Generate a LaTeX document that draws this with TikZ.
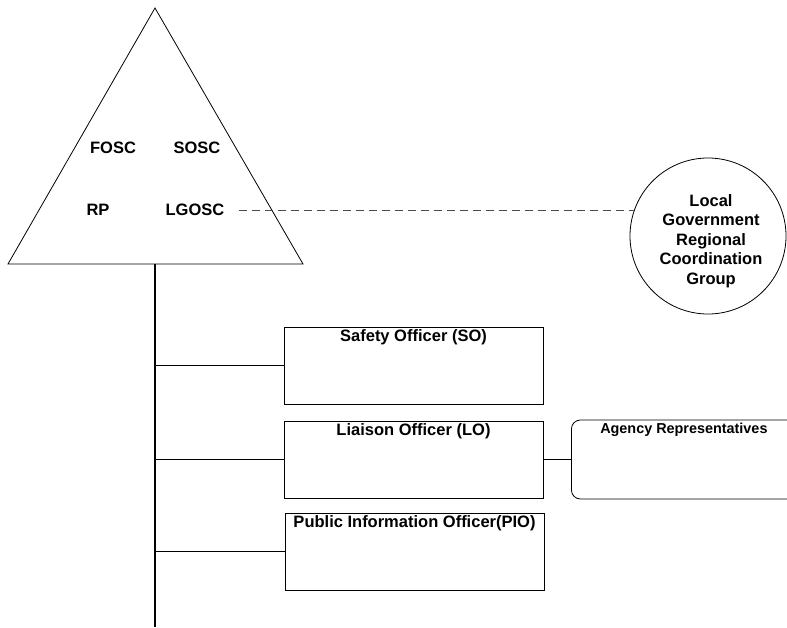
\documentclass[tikz,border=0pt]{standalone}
\usepackage{fontspec}
\setmainfont{Liberation Sans}
\usetikzlibrary{positioning}

\begin{document}
\begin{tikzpicture}[x=1pt, y=-1pt, line width=0.8pt,
	txt/.style={font=\fontsize{16.5}{19.5}\selectfont\bfseries, inner sep=2pt},
	offbox/.style={draw, minimum width=259pt, minimum height=77pt, inner sep=0pt},
	boxtitle/.style={font=\fontsize{16.5}{19.5}\selectfont\bfseries, inner sep=3pt}]

	\def\trunkx{155}

	\useasboundingbox (0,0) rectangle (787,627);
	\clip (0,0) rectangle (787,627);

	\coordinate (apex) at (\trunkx,8);
	\coordinate (baseL) at (8,264);
	\coordinate (baseR) at (303,264);
	\draw (apex) -- (baseR) -- (baseL) -- cycle;

	\node[txt] (fosc) at (113,148) {FOSC};
	\node[txt] (sosc) at (197,148) {SOSC};
	\node[txt] (rp) at (98,210) {RP};
	\node[txt] (lgosc) at (195,210) {LGOSC};

	\node[draw, circle, minimum size=156pt, inner sep=0pt,
		label={[txt, align=center, xshift=3pt, yshift=-5pt]center:Local\\Government\\Regional\\Coordination\\Group}]
		(lgrcg) at (708,236) {};

	\draw[dashed, dash pattern=on 8pt off 5pt, black!70, shorten <=12pt]
		(lgosc.east) -- (lgosc.east -| lgrcg.160);

	\coordinate (trunktop) at (\trunkx,264);
	\coordinate (trunkbot) at (\trunkx,627);
	\draw[line width=1.4pt] (trunktop) -- (trunkbot);

	\node[offbox, label={[boxtitle, anchor=north]north:Safety Officer (SO)}]
		(so) at (413.5,365.5) {};
	\node[offbox, label={[boxtitle, anchor=north]north:Liaison Officer (LO)}]
		(lo) at (413.5,459.5) {};
	\node[offbox, label={[boxtitle, anchor=north]north:Public Information Officer(PIO)}]
		(pio) at (414.5,551.5) {};

	\node[draw, rounded corners=9pt, minimum width=240pt, minimum height=79pt,
		inner sep=0pt, anchor=west,
		label={[font=\fontsize{14.4}{17}\selectfont\bfseries, anchor=north,
		inner sep=3pt, xshift=-7.5pt]north:Agency Representatives}]
		(agency) at (571,459.5) {};

	\draw (trunktop |- so.west) -- (so.west);
	\draw (trunktop |- lo.west) -- (lo.west);
	\draw (trunktop |- pio.west) -- (pio.west);
	\draw (lo.east) -- (agency.west);

\end{tikzpicture}
\end{document}
